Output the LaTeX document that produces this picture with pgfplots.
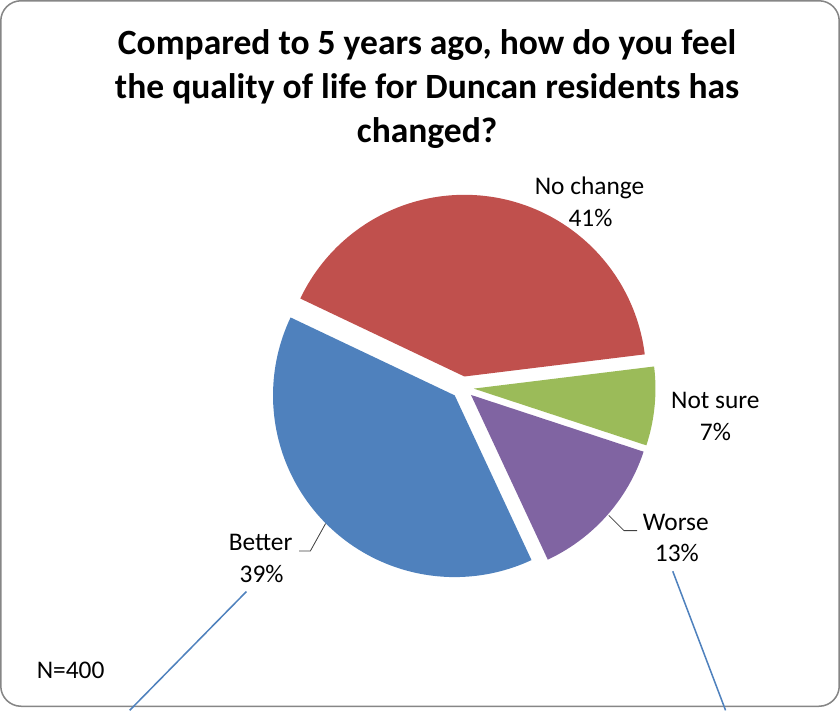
\documentclass[border=0pt]{standalone}
\usepackage{fontspec}
\setmainfont{Carlito}
\usepackage{pgfplots}
\usepackage{pgfplotstable}
\pgfplotsset{compat=1.18}
\definecolor{cBetter}{HTML}{4F81BD}
\definecolor{cNo}{HTML}{C0504D}
\definecolor{cNot}{HTML}{9BBB59}
\definecolor{cWorse}{HTML}{8064A2}
\definecolor{cBorder}{HTML}{868686}
\pgfplotstableread{
slice value
Nochange 41
Better 39
Worse 13
Notsure 7
}\piedata
\newcommand\pieslice[3]{%
  \pgfmathsetmacro\mA{(#2+#3)/2}%
  \pgfmathsetmacro\ox{\cx+\dx*cos(\mA)}%
  \pgfmathsetmacro\oy{\cy-\dx*sin(\mA)}%
  \edef\temp{\noexpand\addplot[fill=#1, draw=none, domain=#2:#3, samples=90, variable=\noexpand\t] ({\ox+\R*cos(\noexpand\t)},{\oy-\R*sin(\noexpand\t)}) -- (axis cs:\ox,\oy) -- cycle;}%
  \temp}
\begin{document}
\begin{tikzpicture}
\def\cx{463}\def\cy{389}\def\R{179}\def\dx{11}
\pgfplotstablegetelem{0}{value}\of\piedata\let\vA\pgfplotsretval
\pgfplotstablegetelem{1}{value}\of\piedata\let\vB\pgfplotsretval
\pgfplotstablegetelem{2}{value}\of\piedata\let\vC\pgfplotsretval
\pgfplotstablegetelem{3}{value}\of\piedata\let\vD\pgfplotsretval
\pgfmathsetmacro\aO{7}
\pgfmathsetmacro\aA{\aO+3.6*\vA}
\pgfmathsetmacro\aB{\aA+3.6*\vB}
\pgfmathsetmacro\aC{\aB+3.6*\vC}
\pgfmathsetmacro\aD{\aC+3.6*\vD}
\begin{axis}[
  anchor=south west, at={(0,0)},
  width=840pt, height=707pt, scale only axis,
  xmin=0, xmax=840, ymin=0, ymax=707, y dir=reverse,
  hide axis, clip=false]
\draw[cBorder, line width=1.5pt, rounded corners=20pt] (axis cs:8,8) rectangle (axis cs:834,703);
\pieslice{cNo}{\aO}{\aA}
\pieslice{cBetter}{\aA}{\aB}
\pieslice{cWorse}{\aB}{\aC}
\pieslice{cNot}{\aC}{\aD}
% leader lines
\addplot[black!75, line width=0.8pt] coordinates {(302,550) (313,550) (328,523)};
\addplot[black!75, line width=0.8pt] coordinates {(607,515) (622,530) (635,530)};
% stray blue lines
\addplot[cBetter, line width=1.5pt] coordinates {(250,590) (135,707)};
\addplot[cBetter, line width=1.5pt] coordinates {(670,570) (722,707)};
% title
\node[anchor=base, font=\fontsize{35}{44}\selectfont\bfseries] at (axis cs:428,61) {Compared to 5 years ago, how do you feel};
\node[anchor=base, font=\fontsize{35}{44}\selectfont\bfseries] at (axis cs:428,104.5) {the quality of life for Duncan residents has};
\node[anchor=base, font=\fontsize{35}{44}\selectfont\bfseries] at (axis cs:428,148) {changed?};
% labels
\node[anchor=base, font=\fontsize{25}{30}\selectfont] at (axis cs:588,199) {No change};
\node[anchor=base, font=\fontsize{25}{30}\selectfont] at (axis cs:589,230) {41\%};
\node[anchor=base, font=\fontsize{25}{30}\selectfont] at (axis cs:712,410) {Not sure};
\node[anchor=base, font=\fontsize{25}{30}\selectfont] at (axis cs:712,441) {7\%};
\node[anchor=base, font=\fontsize{25}{30}\selectfont] at (axis cs:673,530) {Worse};
\node[anchor=base, font=\fontsize{25}{30}\selectfont] at (axis cs:674,560) {13\%};
\node[anchor=base, font=\fontsize{25}{30}\selectfont] at (axis cs:264,550) {Better};
\node[anchor=base, font=\fontsize{25}{30}\selectfont] at (axis cs:265,581) {39\%};
\node[anchor=base west, font=\fontsize{25}{30}\selectfont] at (axis cs:40,676) {N=400};
\end{axis}
\end{tikzpicture}
\end{document}
